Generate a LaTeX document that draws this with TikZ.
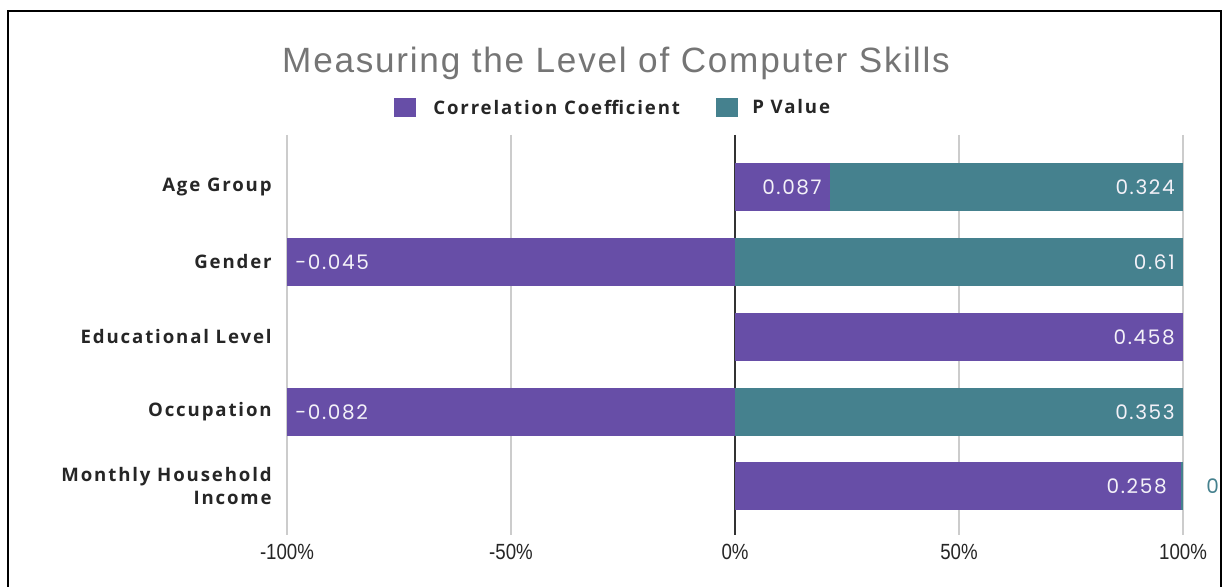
\documentclass[tikz,border=0pt]{standalone}
\usepackage{fontspec}
\setmainfont{Liberation Sans}
\newfontfamily\titlefont{Liberation Sans}[LetterSpace=5]
\newfontfamily\catfont{Open Sans}[LetterSpace=10]
\newfontfamily\valfont{Poppins}[LetterSpace=8]
\newfontfamily\tickfont{Liberation Sans}[FakeStretch=0.85]
\definecolor{corrpurple}{HTML}{674EA7}
\definecolor{pteal}{HTML}{45818E}
\definecolor{titlegray}{HTML}{757575}
\def\databar[#1](#2:#3:#4){\fill[#1] (#2, #4-24) rectangle (#3, #4+24);}

\begin{document}
\begin{tikzpicture}[x=0.02cm, y=-0.02cm,
	catlabel/.style={anchor=east, font=\catfont\bfseries\fontsize{10.6}{12}\selectfont, text=black!85, inner sep=0pt},
	vallabel/.style={font=\valfont\fontsize{11.4}{12}\selectfont, text=white!92!corrpurple, inner sep=0pt},
	ticklabel/.style={font=\tickfont\fontsize{12.5}{14}\selectfont, text=black!85, inner sep=0pt},
	legendtext/.style={anchor=west, font=\catfont\bfseries\fontsize{10.6}{12}\selectfont, text=black!85, inner sep=0pt},
	gridline/.style={draw=black!20, line width=0.6pt}]
		%%%%% START %%%%%
		\useasboundingbox (0, 0) rectangle (1223, 587);
		\fill[white] (0, 0) rectangle (1223, 587);
		
		\draw[line width=1.1pt] (8, 587) -- (8, 11) -- (1221, 11) -- (1221, 587);
		
		\node[font=\titlefont\fontsize{20}{22}\selectfont, text=titlegray, inner sep=0pt] (title) at (616, 63) {Measuring the Level of Computer Skills};
		
		% legend
		\fill[corrpurple] (394, 98) rectangle (416, 117);
		\node[legendtext] (legcorr) at (433, 107) {Correlation Coefficient};
		\fill[pteal] (716, 98) rectangle (738, 117);
		\node[legendtext] (legp) at (752, 107) {P Value};
		
		% grid
		\foreach \gx in {287, 511, 959, 1183}
			\draw[gridline] (\gx, 135) -- (\gx, 535);
		\draw[line width=0.8pt, color=black!80] (735, 135) -- (735, 535);
		
		\foreach \gx/\lab [count=\i] in {287/-100\%, 511/-50\%, 735/0\%, 959/50\%, 1183/100\%}
			\node[ticklabel] (tick\i) at (\gx, 552) {\lab};
		
		% bars
		\databar[corrpurple](735:830:187);
		\databar[pteal](830:1183:187);
		\databar[corrpurple](287:735:262);
		\databar[pteal](735:1183:262);
		\databar[corrpurple](735:1183:337);
		\databar[corrpurple](287:735:412);
		\databar[pteal](735:1183:412);
		\databar[corrpurple](735:1181:486);
		\databar[pteal](1181:1183:486);
		
		% categories
		\node[catlabel] (age) at (272, 187) {Age Group};
		\node[catlabel] (gender) at (272, 262) {Gender};
		\node[catlabel] (edu) at (272, 337) {Educational Level};
		\node[catlabel] (occ) at (272, 412) {Occupation};
		\node[catlabel, align=right, font=\catfont\bfseries\fontsize{10.6}{13.6}\selectfont] (income) at (272, 486) {Monthly Household\\Income};
		
		% values
		\node[vallabel, anchor=east] (agecorr) at (822, 187) {0.087};
		\node[vallabel, anchor=east] (agep) at (1175, 187) {0.324};
		\node[vallabel, anchor=west] (gendercorr) at (295, 262) {-0.045};
		\node[vallabel, anchor=east] (genderp) at (1175, 262) {0.61};
		\node[vallabel, anchor=east] (educorr) at (1175, 337) {0.458};
		\node[vallabel, anchor=west] (occcorr) at (295, 412) {-0.082};
		\node[vallabel, anchor=east] (occp) at (1175, 412) {0.353};
		\node[vallabel, anchor=east] (incomecorr) at (1167, 486) {0.258};
		\node[vallabel, anchor=west, text=pteal] (incomep) at (1206, 486) {0};
		%%%%% END %%%%%
\end{tikzpicture}
\end{document}
